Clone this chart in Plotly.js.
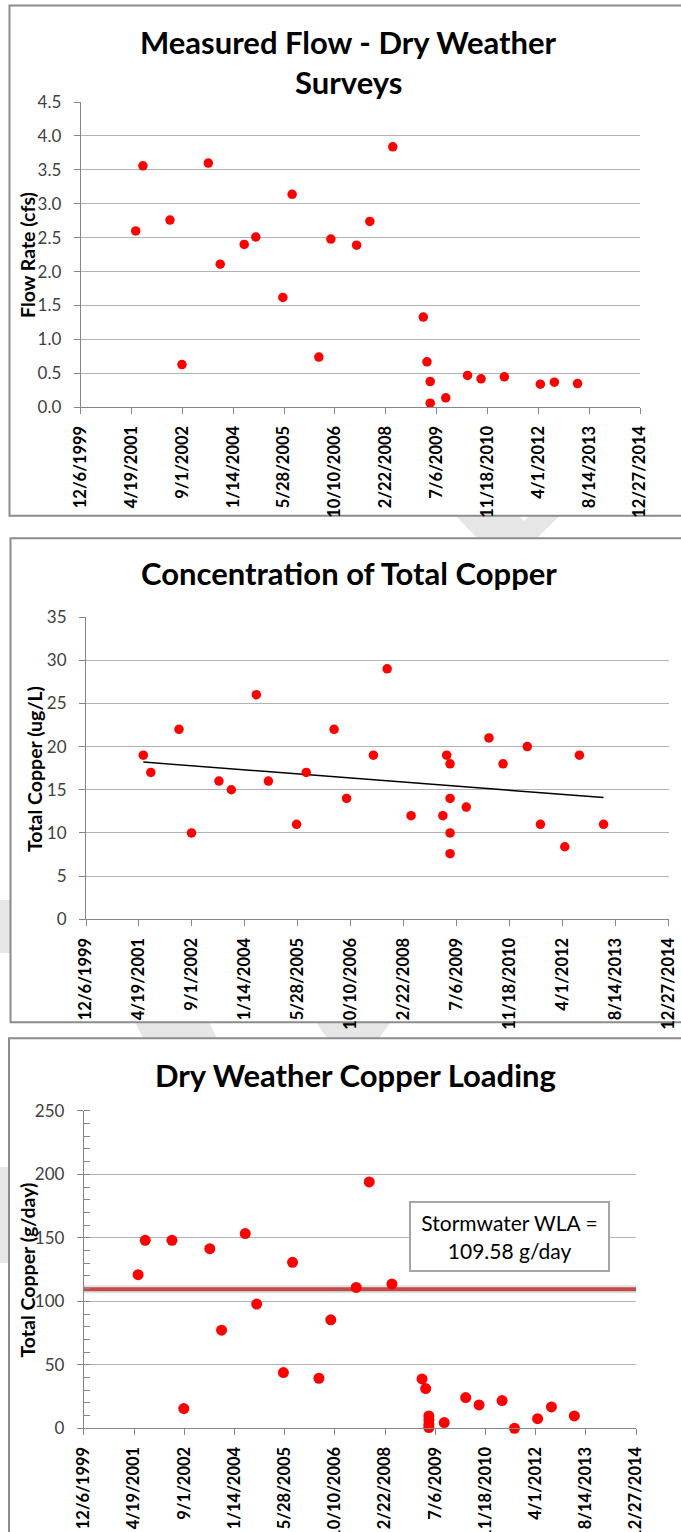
<!DOCTYPE html>
<html>
<head>
<meta charset="utf-8">
<script src="https://cdn.plot.ly/plotly-3.0.1.min.js"></script>
<style>html,body{margin:0;padding:0;background:#fff;}#chart{width:681px;height:1532px;}</style>
</head>
<body>
<div id="chart"></div>
<script>
// ---------- DATA ----------
const tickDates  = ['1999-12-06','2001-04-19','2002-09-01','2004-01-14','2005-05-28','2006-10-10','2008-02-22','2009-07-06','2010-11-18','2012-04-01','2013-08-14','2014-12-27'];
const tickLabels = ['12/6/1999','4/19/2001','9/1/2002','1/14/2004','5/28/2005','10/10/2006','2/22/2008','7/6/2009','11/18/2010','4/1/2012','8/14/2013','12/27/2014'];

// flow survey dates and flow (cfs)
const flowDates = ['2001-05-30','2001-08-09','2002-05-02','2002-08-28','2003-05-14','2003-09-08','2004-05-01','2004-08-23','2005-05-16','2005-08-15','2006-05-05','2006-08-31','2007-05-11','2007-09-18','2008-05-01','2009-02-25','2009-04-02','2009-05-04','2009-05-04','2009-10-04','2010-05-06','2010-09-16','2011-05-03','2012-04-21','2012-09-06','2013-04-22'];
const flowCfs   = [2.60,3.56,2.76,0.63,3.60,2.11,2.40,2.51,1.62,3.14,0.74,2.48,2.39,2.74,3.84,1.33,0.67,0.38,0.06,0.14,0.47,0.42,0.45,0.34,0.37,0.35];

// copper sample dates, total copper (ug/L) and loading (g/day)
const copperDates = ['2001-05-30','2001-08-09','2002-05-02','2002-08-28','2003-05-14','2003-09-08','2004-05-01','2004-08-23','2005-05-16','2005-08-15','2006-05-05','2006-08-31','2007-05-11','2007-09-18','2008-05-01','2009-02-25','2009-04-02','2009-05-04','2009-05-04','2009-05-04','2009-05-04','2009-10-04','2010-05-06','2010-09-16','2011-05-03','2011-09-04','2012-04-21','2012-09-06','2013-04-22'];
const copperUgL   = [19,17,22,10,16,15,26,16,11,17,22,14,19,29,12,12,19,18,14,10,7.6,13,21,18,20,11,8.4,19,11];
const loadingGDay = [121,148,148,15.5,141.4,77.3,153.3,97.8,43.9,130.7,39.4,85.4,110.9,194,113.6,38.9,31.3,9.7,6.5,3.0,0.6,4.5,24.2,18.4,21.8,0,7.6,16.8,9.7];

// linear trend of copper concentration (end values)
const trendDates = ['2001-05-30','2013-04-22'];
const trendUgL   = [18.2,14.1];

// stormwater waste load allocation
const wlaDates = ['1999-12-06','2014-12-27'];
const wlaValue = 109.58;

// ---------- LAYOUT HELPERS ----------
const W = 681, H = 1532;
const px = x => x / W;
const py = y => 1 - y / H;
const xdom = (a, b) => [px(a), px(b)];
const ydom = (top, bot) => [py(bot), py(top)];
const pathOf = pts => 'M ' + pts.map(p => px(p[0]) + ',' + py(p[1])).join(' L ') + ' Z';

const FONT = 'Lato, "Open Sans", sans-serif';
const RED = '#ff0000';

function xAxis(domain, anchor) {
  return {
    type: 'date', domain: domain, anchor: anchor,
    range: [tickDates[0], tickDates[tickDates.length - 1]],
    tickmode: 'array', tickvals: tickDates, ticktext: tickLabels,
    tickangle: -90, ticks: 'outside', ticklen: 6, tickcolor: '#868686', tickwidth: 1,
    ticklabelstandoff: 5,
    tickfont: {family: FONT, size: 16.5, color: '#000', weight: 700},
    showline: true, linecolor: '#868686', linewidth: 1,
    showgrid: false, zeroline: false, fixedrange: true
  };
}
function yAxis(domain, anchor, range, dtick, fmt) {
  return {
    domain: domain, anchor: anchor, range: range, dtick: dtick, tick0: 0,
    tickformat: fmt, ticks: 'outside', ticklen: 6, tickcolor: '#868686', tickwidth: 1,
    ticklabelstandoff: 9,
    tickfont: {family: FONT, size: 17, color: '#404040'},
    showline: true, linecolor: '#868686', linewidth: 1,
    showgrid: true, gridcolor: '#b3b3b3', gridwidth: 1,
    zeroline: false, fixedrange: true
  };
}

const traces = [
  {x: flowDates, y: flowCfs, xaxis: 'x', yaxis: 'y', type: 'scatter', mode: 'markers',
   marker: {color: RED, size: 9.5}, cliponaxis: false},
  {x: trendDates, y: trendUgL, xaxis: 'x2', yaxis: 'y2', type: 'scatter', mode: 'lines',
   line: {color: '#000', width: 1.5}, hoverinfo: 'skip'},
  {x: copperDates, y: copperUgL, xaxis: 'x2', yaxis: 'y2', type: 'scatter', mode: 'markers',
   marker: {color: RED, size: 9.5}, cliponaxis: false},
  {x: wlaDates, y: [wlaValue, wlaValue], xaxis: 'x3', yaxis: 'y3', type: 'scatter', mode: 'lines',
   line: {color: 'rgba(0,0,0,0.12)', width: 8}, hoverinfo: 'skip'},
  {x: wlaDates, y: [wlaValue, wlaValue], xaxis: 'x3', yaxis: 'y3', type: 'scatter', mode: 'lines',
   line: {color: '#bf4c49', width: 4}, hoverinfo: 'skip'},
  {x: copperDates, y: loadingGDay, xaxis: 'x3', yaxis: 'y3', type: 'scatter', mode: 'markers',
   marker: {color: RED, size: 11}, cliponaxis: false}
];

const y3 = yAxis(ydom(1110.8, 1428.3), 'x3', [0, 250], 50, 'd');
y3.minor = {dtick: 10, ticks: 'inside', ticklen: 6, tickcolor: '#868686', showgrid: false};

const WM = '#e6e6e6';
const shapes = [
  // watermark fragments (behind the chart frames)
  {type: 'path', xref: 'paper', yref: 'paper', layer: 'below', line: {width: 0}, fillcolor: WM,
   path: pathOf([[445.5,505],[508,505],[524,521],[541,505],[570.5,505],[530,545],[483.6,545]])},
  {type: 'path', xref: 'paper', yref: 'paper', layer: 'below', line: {width: 0}, fillcolor: WM,
   path: pathOf([[130,1012],[204,1012],[222,1048],[148,1048]])},
  {type: 'path', xref: 'paper', yref: 'paper', layer: 'below', line: {width: 0}, fillcolor: WM,
   path: pathOf([[309,1012],[398,1012],[372,1048],[334,1048]])},
  {type: 'path', xref: 'paper', yref: 'paper', layer: 'below', line: {width: 0}, fillcolor: WM,
   path: pathOf([[-5,900],[20,900],[20,953],[-5,953]])},
  {type: 'path', xref: 'paper', yref: 'paper', layer: 'below', line: {width: 0}, fillcolor: WM,
   path: pathOf([[-5,1167],[20,1167],[20,1263],[-5,1263]])},
  // chart frames
  {type: 'rect', xref: 'paper', yref: 'paper', layer: 'below', x0: px(9.5), x1: px(720), y0: py(515.7), y1: py(5.5),
   line: {color: '#8c8c8c', width: 2}, fillcolor: '#fff'},
  {type: 'rect', xref: 'paper', yref: 'paper', layer: 'below', x0: px(10.5), x1: px(720), y0: py(1022.3), y1: py(538.3),
   line: {color: '#8c8c8c', width: 2}, fillcolor: '#fff'},
  {type: 'rect', xref: 'paper', yref: 'paper', layer: 'below', x0: px(9), x1: px(720), y0: py(1560), y1: py(1038.3),
   line: {color: '#8c8c8c', width: 2}, fillcolor: '#fff'}
];

const titleFont = {family: FONT, size: 31, color: '#000', weight: 700};
const axTitleFont = {family: FONT, size: 19.5, color: '#000', weight: 700};
const ann = (text, x, y, font, extra) => Object.assign({text: text, xref: 'paper', yref: 'paper', x: px(x), y: py(y),
  xanchor: 'center', yanchor: 'middle', showarrow: false, font: font}, extra || {});

const annotations = [
  ann('Measured Flow - Dry Weather', 348, 41.7, titleFont),
  ann('Surveys', 348, 81.7, titleFont),
  ann('Concentration of Total Copper', 349, 573, titleFont),
  ann('Dry Weather Copper Loading', 356, 1075, titleFont),
  ann('Flow Rate (cfs)', 27, 255, axTitleFont, {textangle: -90}),
  ann('Total Copper (ug/L)', 34, 769, axTitleFont, {textangle: -90}),
  ann('Total Copper (g/day)', 26.5, 1270, axTitleFont, {textangle: -90}),
  ann('Stormwater WLA =<br>109.58 g/day', 509.5, 1236.5, {family: FONT, size: 21, color: '#000'},
      {width: 197, height: 67, bordercolor: '#a6a6a6', borderwidth: 2, borderpad: 0, bgcolor: '#fff'})
];

const layout = {
  width: W, height: H, margin: {l: 0, r: 0, t: 0, b: 0},
  paper_bgcolor: '#fff', plot_bgcolor: 'rgba(0,0,0,0)',
  showlegend: false, hovermode: 'closest',
  xaxis:  xAxis(xdom(80.7, 640), 'y'),
  yaxis:  yAxis(ydom(102, 407.3), 'x', [0, 4.5], 0.5, '.1f'),
  xaxis2: xAxis(xdom(86, 668.6), 'y2'),
  yaxis2: yAxis(ydom(617, 919.3), 'x2', [0, 35], 5, 'd'),
  xaxis3: xAxis(xdom(83.8, 636), 'y3'),
  yaxis3: y3,
  shapes: shapes,
  annotations: annotations
};

Plotly.newPlot('chart', traces, layout, {displayModeBar: false, staticPlot: true});
</script>
</body>
</html>
